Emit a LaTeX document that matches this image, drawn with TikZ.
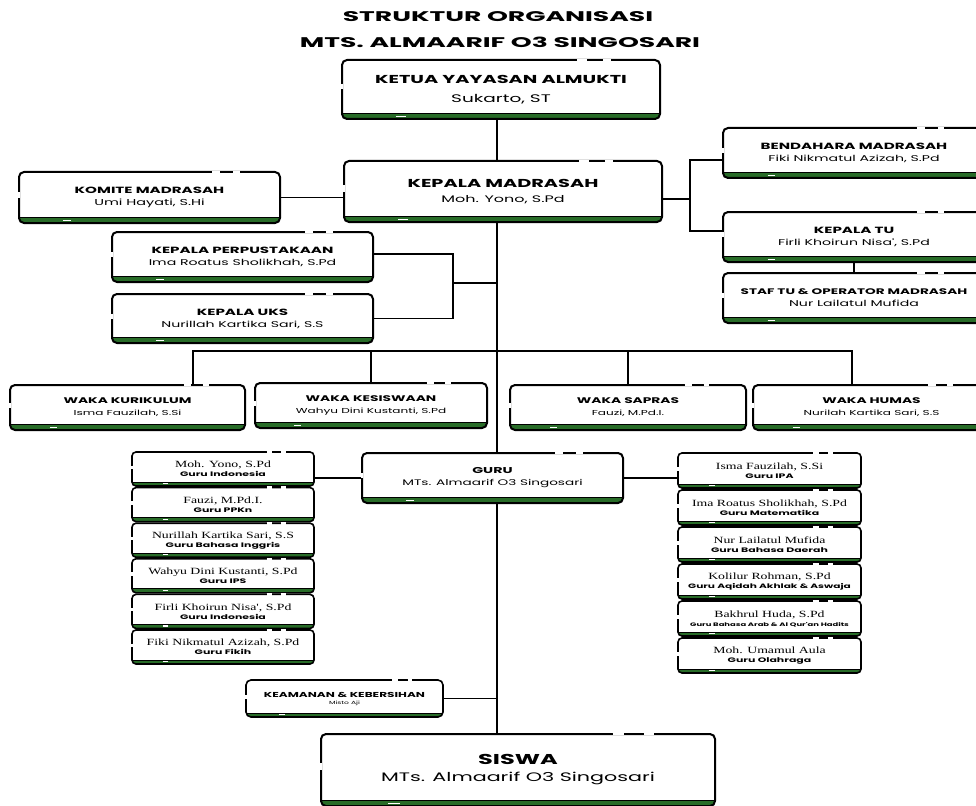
\documentclass[tikz,border=0pt]{standalone}
\usepackage{fontspec}
\newfontfamily\titlefont[FakeStretch=1.9]{Poppins}
\newfontfamily\headfont[FakeStretch=1.68]{Poppins}
\newfontfamily\namefont[FakeStretch=1.45]{Liberation Serif}
\usetikzlibrary{calc,backgrounds}
\definecolor{boxgreen}{RGB}{40,108,40}
\newcommand{\hd}[2]{{\headfont\fontsize{#1}{#1}\selectfont #2}}
\newcommand{\hdb}[2]{{\headfont\bfseries\fontsize{#1}{#1}\selectfont #2}}
\newcommand{\nm}[2]{{\namefont\fontsize{#1}{#1}\selectfont #2}}

\begin{document}
\begin{tikzpicture}[x=1pt, y=-1pt]
	\tikzset{
		every node/.style={
			align=center,
			inner sep=0pt
		},
		stripe/.store in=\stripeht,
		card/.style={
			draw,
			line width=2pt,
			outer sep=0pt,
			rounded corners=5pt,
			fill=white,
			stripe=6pt,
			path picture={
				\fill[boxgreen, sharp corners] (path picture bounding box.south west)
					rectangle ([yshift=\stripeht]path picture bounding box.south east);
				\draw[line width=0.8pt, sharp corners] ([yshift=\stripeht]path picture bounding box.south west)
					-- ([yshift=\stripeht]path picture bounding box.south east);
			}
		},
		link/.style={
			line width=1.1pt
		},
		trunk/.style={
			line width=2pt
		},
		gap/.style={
			white,
			line width=2.6pt
		}
	}

	\useasboundingbox (0,0) rectangle (976,805);

	\node (title1) at (498,17)
		{\titlefont\bfseries\fontsize{14}{14}\selectfont STRUKTUR ORGANISASI};
	\node (title2) at (500,42)
		{\titlefont\bfseries\fontsize{14}{14}\selectfont MTS. ALMAARIF O3 SINGOSARI};

	\node[card, minimum width=318, minimum height=59] (ketua) at (501,89.5)
		{\hdb{11.5}{KETUA YAYASAN ALMUKTI}\\[7pt]\hd{11}{Sukarto, ST}};
	\node[card, minimum width=318, minimum height=61] (kepala) at (503,191.5)
		{\hdb{11.5}{KEPALA MADRASAH}\\[3pt]\hd{9.5}{Moh. Yono, S.Pd}};
	\node[card, minimum width=261, minimum height=51] (komite) at (149.5,197.5)
		{\hdb{9}{KOMITE MADRASAH}\\\hd{8.6}{Umi Hayati, S.Hi}};

	\node[card, minimum width=262, minimum height=50] (bendahara) at (854,153)
		{\hdb{9}{BENDAHARA MADRASAH}\\\hd{8.4}{Fiki Nikmatul Azizah, S.Pd}};
	\node[card, minimum width=262, minimum height=50] (kepalatu) at (854,237)
		{\hdb{9}{KEPALA TU}\\\hd{8.4}{Firli Khoirun Nisa', S.Pd}};
	\node[card, minimum width=262, minimum height=50] (staftu) at (854,298)
		{\hdb{8.1}{STAF TU \& OPERATOR MADRASAH}\\\hd{8.4}{Nur Lailatul Mufida}};

	\node[card, minimum width=261, minimum height=50] (perpus) at (242.5,257)
		{\hdb{9}{KEPALA PERPUSTAKAAN}\\\hd{8.4}{Ima Roatus Sholikhah, S.Pd}};
	\node[card, minimum width=261, minimum height=49] (uks) at (242.5,318.5)
		{\hdb{9}{KEPALA UKS}\\\hd{8.4}{Nurillah Kartika Sari, S.S}};

	\node[card, minimum width=235, minimum height=45] (waka1) at (127.5,407.5)
		{\hdb{8.2}{WAKA KURIKULUM}\\\hd{7.2}{Isma Fauzilah, S.Si}};
	\node[card, minimum width=232, minimum height=45] (waka2) at (371,405.5)
		{\hdb{8.2}{WAKA KESISWAAN}\\\hd{7.2}{Wahyu Dini Kustanti, S.Pd}};
	\node[card, minimum width=236, minimum height=45] (waka3) at (628,407.5)
		{\hdb{8.2}{WAKA SAPRAS}\\\hd{7.2}{Fauzi, M.Pd.I.}};
	\node[card, minimum width=237, minimum height=45] (waka4) at (871.5,407.5)
		{\hdb{8.2}{WAKA HUMAS}\\\hd{7.2}{Nurilah Kartika Sari, S.S}};

	\node[card, minimum width=261, minimum height=50] (guru) at (492.5,478)
		{\hdb{8.5}{GURU}\\\hd{8.1}{MTs. Almaarif O3 Singosari}};

	% guru kiri
	\foreach \who/\job [count=\i] in {
			{Moh. Yono, S.Pd}/Guru Indonesia,
			{Fauzi, M.Pd.I.}/Guru PPKn,
			{Nurillah Kartika Sari, S.S}/Guru Bahasa Inggris,
			{Wahyu Dini Kustanti, S.Pd}/Guru IPS,
			{Firli Khoirun Nisa', S.Pd}/Guru Indonesia,
			{Fiki Nikmatul Azizah, S.Pd}/Guru Fikih}
		\node[card, stripe=4pt, line width=1.6pt, rounded corners=4pt, minimum width=182, minimum height=34]
			(guruL-\i) at (223,433.4+35.6*\i)
			{\nm{9.5}{\who}\\[-3pt]\hdb{6.5}{\job}};

	% guru kanan
	\foreach \who/\job/\js [count=\i] in {
			{Isma Fauzilah, S.Si}/Guru IPA/6.5,
			{Ima Roatus Sholikhah, S.Pd}/Guru Matematika/6.5,
			Nur Lailatul Mufida/Guru Bahasa Daerah/6.5,
			{Kolilur Rohman, S.Pd}/{Guru Aqidah Akhlak \& Aswaja}/6.3,
			{Bakhrul Huda, S.Pd}/{Guru Bahasa Arab \& Al Qur'an Hadits}/5,
			Moh. Umamul Aula/Guru Olahraga/6.5}
		\node[card, stripe=4pt, line width=1.6pt, rounded corners=4pt, minimum width=183, minimum height=35]
			(guruR-\i) at (769.5,433.5+37*\i)
			{\nm{9.5}{\who}\\[-3pt]\hdb{\js}{\job}};

	\node[card, stripe=4pt, line width=1.6pt, minimum width=197, minimum height=37] (keamanan) at (344.5,698.5)
		{\hdb{7.2}{KEAMANAN \& KEBERSIHAN}\\[-5pt]\hd{4.5}{Misto Aji}};
	\node[card, minimum width=394, minimum height=72] (siswa) at (518,770)
		{\hdb{14.3}{SISWA}\\[5pt]\hd{12.3}{MTs. Almaarif O3 Singosari}};

	% putus-putus di tepi kotak
	\foreach \n in {ketua,kepala,komite,bendahara,kepalatu,staftu,perpus,uks,
			waka1,waka2,waka3,waka4,guru,keamanan,siswa,
			guruL-1,guruL-2,guruL-3,guruL-4,guruL-5,guruL-6,
			guruR-1,guruR-2,guruR-3,guruR-4,guruR-5,guruR-6} {
		\draw[gap] ($(\n.north west)!0.74!(\n.north east)$) -- ($(\n.north west)!0.77!(\n.north east)$);
		\draw[gap] ($(\n.north west)!0.82!(\n.north east)$) -- ($(\n.north west)!0.845!(\n.north east)$);
		\draw[gap] ($(\n.north west)!0.4!(\n.south west)$) -- ($(\n.north west)!0.5!(\n.south west)$);
		\draw[gap, line width=1.2pt] ($(\n.south west)!0.17!(\n.south east)+(0,-2.5)$)
			-- ($(\n.south west)!0.2!(\n.south east)+(0,-2.5)$);
	}

	\begin{scope}[on background layer]
		\coordinate (spine) at (497,0);
		\coordinate (bus) at (0,351);

		\draw[trunk] (spine |- ketua.south) -- (spine |- siswa.north);

		\draw[link] (komite.east) -- (komite.east -| kepala.west);

		\draw[link] ([yshift=-7.5pt]kepala.east) -- ++(28,0) coordinate (fork);
		\draw[link] ([yshift=-7pt]bendahara.west) -| (fork) |- ([yshift=6pt]kepalatu.west);
		\draw[link] (kepalatu.south) -- (staftu.north);

		\draw[link] ([yshift=3pt]perpus.east) -- ++(80,0) coordinate (libfork) |- (uks.east);
		\coordinate (libmid) at ($(libfork)!0.45!(libfork |- uks.east)$);
		\draw[link] (libmid) -- (libmid -| spine);

		\draw[link] ($(waka1.north)+(65.5,0)$) |- ($(waka4.north |- bus)+(-19.5,0)$)
			-- ($(waka4.north)+(-19.5,0)$);
		\draw[link] (waka2.north) -- (waka2.north |- bus);
		\draw[link] (waka3.north) -- (waka3.north |- bus);

		\draw[link] (guru.west) -- (guru.west -| guruL-1.east);
		\draw[link] (guru.east) -- (guru.east -| guruR-1.west);

		\draw[link] (keamanan.east) -- (keamanan.east -| spine);
	\end{scope}

\end{tikzpicture}
\end{document}
